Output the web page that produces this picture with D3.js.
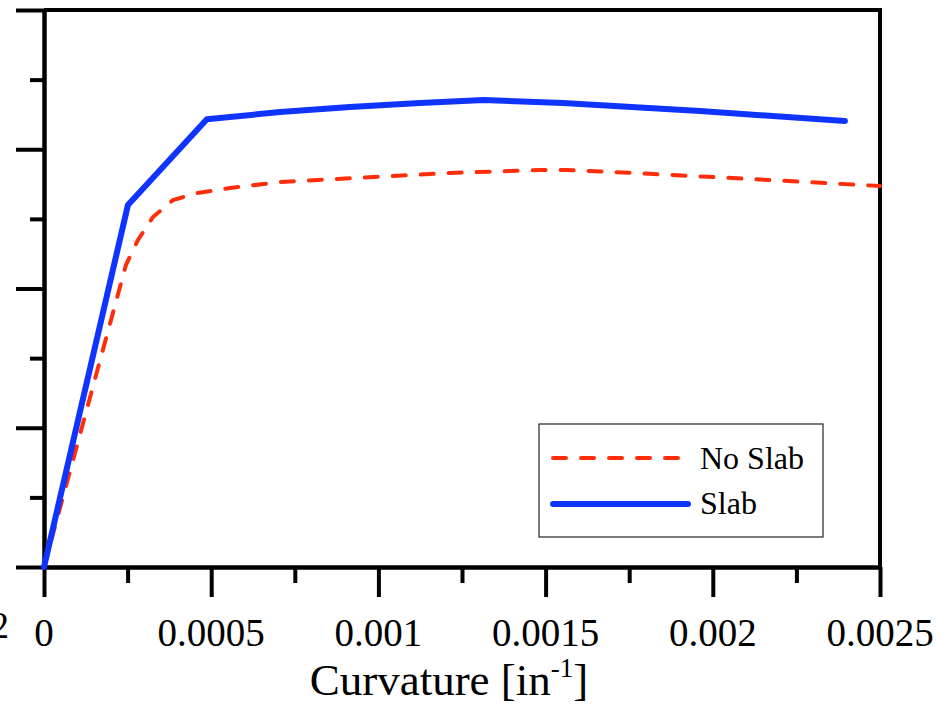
<!DOCTYPE html>
<html>
<head>
<meta charset="utf-8">
<script src="https://cdn.jsdelivr.net/npm/d3@7"></script>
<style>
  body { margin: 0; background: #fff; }
  svg { display: block; }
  .axis path, .axis line { stroke: #000; stroke-width: 4; }
  .axis text { display: none; }
</style>
</head>
<body>
<script>
// curvature [1/in] and moment values
var slabCurv = [0, 0.000251, 0.000487, 0.000706, 0.000915, 0.001124, 0.001316, 0.001552, 0.001962, 0.002395];
var slabVal  = [0, 5.20, 6.43, 6.535, 6.607, 6.664, 6.707, 6.664, 6.549, 6.406];

var noSlabCurv = [0, 0.000245, 0.000281, 0.000326, 0.000386, 0.000458, 0.000556, 0.000706, 0.000984, 0.001214, 0.001483, 0.001564, 0.001701, 0.002001, 0.0025];
var noSlabVal  = [0, 4.337, 4.697, 5.027, 5.271, 5.372, 5.443, 5.530, 5.601, 5.659, 5.702, 5.702, 5.673, 5.601, 5.472];

var xMajor = [0, 0.0005, 0.001, 0.0015, 0.002, 0.0025];
var xMinor = [0.00025, 0.00075, 0.00125, 0.00175, 0.00225];
var xLabels = ["0", "0.0005", "0.001", "0.0015", "0.002", "0.0025"];
var yMajor = [0, 2, 4, 6, 8];
var yMinor = [1, 3, 5, 7];

var seriesNames = ["No Slab", "Slab"];

var fontFam = "'Liberation Serif', 'Times New Roman', serif";

var width = 937, height = 710;
var margin = { top: 10, right: 57, bottom: 143, left: 44 };
var w = width - margin.left - margin.right,
    h = height - margin.top - margin.bottom;

var svg = d3.select("body").append("svg")
    .attr("width", width)
    .attr("height", height);

var g = svg.append("g")
    .attr("transform", "translate(" + margin.left + "," + margin.top + ")");

var x = d3.scaleLinear().domain([0, 0.0025]).range([0, w]);
var y = d3.scaleLinear().domain([0, 8]).range([h, 0]);

// frame (top and right sides)
g.append("path")
    .attr("d", "M0,0H" + w + "V" + h)
    .attr("fill", "none")
    .attr("stroke", "#000")
    .attr("stroke-width", 4);

// minor ticks first, then major
g.append("g").attr("class", "axis")
    .call(d3.axisLeft(y).tickValues(yMinor).tickSize(14).tickSizeOuter(0).tickFormat(""));
g.append("g").attr("class", "axis")
    .call(d3.axisLeft(y).tickValues(yMajor).tickSize(28).tickSizeOuter(0).tickFormat(""));

g.append("g").attr("class", "axis")
    .attr("transform", "translate(0," + h + ")")
    .call(d3.axisBottom(x).tickValues(xMinor).tickSize(16).tickSizeOuter(0).tickFormat(""));
g.append("g").attr("class", "axis")
    .attr("transform", "translate(0," + h + ")")
    .call(d3.axisBottom(x).tickValues(xMajor).tickSize(30).tickSizeOuter(0).tickFormat(""));

// x tick labels
g.selectAll(".xlab")
    .data(xMajor)
    .enter().append("text")
    .attr("class", "xlab")
    .attr("x", function(d) { return x(d); })
    .attr("y", h + 79)
    .attr("text-anchor", "middle")
    .style("font-family", fontFam)
    .style("font-size", "39px")
    .text(function(d, i) { return xLabels[i]; });

// leftover of a cut-off label at the far left (cut off in the source too)
svg.append("text")
    .attr("x", 9)
    .attr("y", 638)
    .attr("text-anchor", "end")
    .style("font-family", fontFam)
    .style("font-size", "37px")
    .text("2");

// axis title
var title = svg.append("text")
    .attr("x", 449)
    .attr("y", 695)
    .attr("text-anchor", "middle")
    .style("font-family", fontFam)
    .style("font-size", "45px");
title.append("tspan").text("Curvature [in");
title.append("tspan").style("font-size", "27px").attr("dy", -18).text("-1");
title.append("tspan").attr("dy", 18).text("]");

var line = d3.line()
    .x(function(d) { return x(d[0]); })
    .y(function(d) { return y(d[1]); });

var noSlab = noSlabCurv.map(function(c, i) { return [c, noSlabVal[i]]; });
var slab = slabCurv.map(function(c, i) { return [c, slabVal[i]]; });

var red = "#ff2d0a", blue = "#0f34ff";

g.append("path")
    .datum(noSlab)
    .attr("fill", "none")
    .attr("stroke", red)
    .attr("stroke-width", 4)
    .attr("stroke-dasharray", "13,15")
    .attr("stroke-linecap", "round")
    .attr("d", line);

g.append("path")
    .datum(slab)
    .attr("fill", "none")
    .attr("stroke", blue)
    .attr("stroke-width", 6)
    .attr("stroke-linecap", "round")
    .attr("stroke-linejoin", "round")
    .attr("d", line);

// legend
var legend = svg.append("g").attr("transform", "translate(539,424)");
legend.append("rect")
    .attr("width", 284)
    .attr("height", 113)
    .attr("fill", "#fff")
    .attr("stroke", "#222")
    .attr("stroke-width", 1.2);
legend.append("line")
    .attr("x1", 14).attr("x2", 141)
    .attr("y1", 34).attr("y2", 34)
    .attr("stroke", red)
    .attr("stroke-width", 4)
    .attr("stroke-dasharray", "13,15")
    .attr("stroke-linecap", "round");
legend.append("line")
    .attr("x1", 14).attr("x2", 149)
    .attr("y1", 80).attr("y2", 80)
    .attr("stroke", blue)
    .attr("stroke-width", 6)
    .attr("stroke-linecap", "round");
legend.selectAll(".ltext")
    .data(seriesNames)
    .enter().append("text")
    .attr("class", "ltext")
    .attr("x", 161)
    .attr("y", function(d, i) { return 45 + i * 45; })
    .style("font-family", fontFam)
    .style("font-size", "32px")
    .text(function(d) { return d; });
</script>
</body>
</html>
